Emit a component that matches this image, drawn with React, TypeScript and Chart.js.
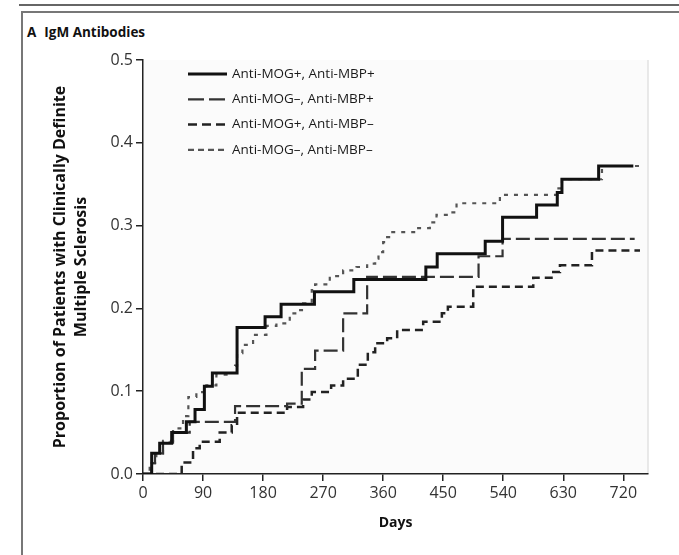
import React, { useEffect, useRef } from "react";
import { Chart, registerables } from "chart.js";

Chart.register(...registerables);

// ---- data ----
const X_TICKS = [0, 90, 180, 270, 360, 450, 540, 630, 720];
const Y_TICKS = [0, 0.1, 0.2, 0.3, 0.4, 0.5];
const SERIES_LABELS = [
  "Anti-MOG+, Anti-MBP+",
  "Anti-MOG\u2013, Anti-MBP+",
  "Anti-MOG+, Anti-MBP\u2013",
  "Anti-MOG\u2013, Anti-MBP\u2013",
];

const MOGPOS_MBPPOS_DAYS = [0, 13, 25, 43, 65, 78, 92, 104, 141, 183, 207, 257, 316, 424, 441, 513, 539, 590, 621, 628, 683, 735];
const MOGPOS_MBPPOS_VALS = [0, 0.025, 0.037, 0.05, 0.063, 0.078, 0.106, 0.122, 0.177, 0.19, 0.205, 0.22, 0.235, 0.25, 0.266, 0.281, 0.31, 0.325, 0.34, 0.356, 0.372, 0.372];

const MOGNEG_MBPPOS_DAYS = [0, 13, 18, 30, 45, 70, 138, 216, 238, 258, 300, 336, 503, 539, 737];
const MOGNEG_MBPPOS_VALS = [0, 0.013, 0.025, 0.038, 0.05, 0.063, 0.082, 0.085, 0.127, 0.149, 0.194, 0.238, 0.263, 0.284, 0.284];

const MOGPOS_MBPNEG_DAYS = [0, 52, 58, 75, 85, 115, 133, 141, 216, 240, 253, 282, 300, 322, 337, 348, 366, 381, 420, 448, 457, 495, 585, 615, 625, 673, 745];
const MOGPOS_MBPNEG_VALS = [0, 0, 0.014, 0.031, 0.039, 0.05, 0.059, 0.074, 0.081, 0.09, 0.099, 0.107, 0.115, 0.132, 0.147, 0.158, 0.164, 0.174, 0.184, 0.194, 0.202, 0.226, 0.237, 0.244, 0.252, 0.27, 0.27];

const MOGNEG_MBPNEG_DAYS = [0, 10, 20, 30, 45, 60, 68, 80, 95, 110, 128, 138, 141, 149, 165, 185, 200, 220, 232, 240, 253, 258, 280, 300, 320, 336, 348, 353, 360, 366, 371, 410, 430, 440, 457, 470, 535, 621, 628, 688, 750];
const MOGNEG_MBPNEG_VALS = [0, 0.013, 0.025, 0.04, 0.055, 0.07, 0.093, 0.099, 0.107, 0.12, 0.122, 0.131, 0.146, 0.156, 0.168, 0.179, 0.182, 0.194, 0.198, 0.206, 0.222, 0.229, 0.239, 0.246, 0.25, 0.254, 0.26, 0.268, 0.28, 0.286, 0.292, 0.297, 0.304, 0.313, 0.316, 0.327, 0.337, 0.345, 0.356, 0.372, 0.372];

const X_MAX = 757;
const Y_TITLE = ["Proportion of Patients with Clinically Definite", "Multiple Sclerosis"];
const X_TITLE = "Days";

const FONT = "'Open Sans', 'DejaVu Sans', sans-serif";

function pts(days: number[], vals: number[]) {
  return days.map((d, i) => ({ x: d, y: vals[i] }));
}

const bgPlugin = {
  id: "plotBg",
  beforeDraw(chart: any) {
    const { ctx, chartArea: a } = chart;
    ctx.save();
    ctx.fillStyle = "#fbfbfb";
    ctx.fillRect(a.left, a.top, a.right - a.left, a.bottom - a.top);
    ctx.strokeStyle = "#e2e2e2";
    ctx.lineWidth = 1.5;
    ctx.beginPath();
    ctx.moveTo(a.right, a.top);
    ctx.lineTo(a.right, a.bottom);
    ctx.stroke();
    ctx.restore();
  },
};

const legendPlugin = {
  id: "customLegend",
  afterDraw(chart: any) {
    const { ctx } = chart;
    ctx.save();
    chart.data.datasets.forEach((ds: any, i: number) => {
      const y = 74 + i * 25.3;
      ctx.strokeStyle = ds.borderColor;
      ctx.lineWidth = ds.borderWidth;
      ctx.setLineDash(ds.legendDash || ds.borderDash || []);
      ctx.beginPath();
      ctx.moveTo(188, y);
      ctx.lineTo(227, y);
      ctx.stroke();
      ctx.setLineDash([]);
      ctx.fillStyle = "#1a1a1a";
      ctx.font = `13.5px ${FONT}`;
      ctx.textBaseline = "middle";
      ctx.textAlign = "left";
      ctx.fillText(ds.label, 232, y);
    });
    ctx.restore();
  },
};

export default function App() {
  const ref = useRef<HTMLCanvasElement>(null);

  useEffect(() => {
    const chart = new Chart(ref.current as HTMLCanvasElement, {
      type: "line",
      data: {
        datasets: [
          {
            label: SERIES_LABELS[0],
            data: pts(MOGPOS_MBPPOS_DAYS, MOGPOS_MBPPOS_VALS),
            borderColor: "#111",
            borderWidth: 3,
            borderDash: [],
            stepped: "before",
          },
          {
            label: SERIES_LABELS[1],
            data: pts(MOGNEG_MBPPOS_DAYS, MOGNEG_MBPPOS_VALS),
            borderColor: "#333",
            borderWidth: 2.2,
            borderDash: [14, 5],
            legendDash: [16, 5],
            stepped: "before",
          },
          {
            label: SERIES_LABELS[2],
            data: pts(MOGPOS_MBPNEG_DAYS, MOGPOS_MBPNEG_VALS),
            borderColor: "#222",
            borderWidth: 2.5,
            borderDash: [8, 5],
            legendDash: [9, 5],
            stepped: "before",
          },
          {
            label: SERIES_LABELS[3],
            data: pts(MOGNEG_MBPNEG_DAYS, MOGNEG_MBPNEG_VALS),
            borderColor: "#555",
            borderWidth: 2.2,
            borderDash: [4, 6],
            legendDash: [6, 4],
            stepped: "before",
          },
        ] as any,
      },
      options: {
        animation: false,
        responsive: false,
        devicePixelRatio: 1,
        layout: { padding: { left: 0, top: 60, right: 31, bottom: 11 } },
        elements: { point: { radius: 0 }, line: { tension: 0 } },
        plugins: { legend: { display: false }, tooltip: { enabled: false } },
        scales: {
          x: {
            type: "linear",
            min: 0,
            max: X_MAX,
            afterBuildTicks: (s: any) => {
              s.ticks = X_TICKS.map((v) => ({ value: v }));
            },
            afterFit: (s: any) => {
              s.height = 70;
            },
            grid: { drawOnChartArea: false, drawTicks: true, tickLength: 7, color: "#222", lineWidth: 1.5 },
            border: { display: true, color: "#222", width: 1.5 },
            ticks: {
              autoSkip: false,
              maxRotation: 0,
              padding: 3,
              color: "#333",
              font: { family: FONT, size: 16 },
              callback: (v: any) => String(v),
            },
            title: {
              display: true,
              text: X_TITLE,
              color: "#111",
              font: { family: FONT, size: 14, weight: "bold" },
              padding: { top: 0, bottom: 13 },
            },
          },
          y: {
            type: "linear",
            min: 0,
            max: 0.5,
            afterBuildTicks: (s: any) => {
              s.ticks = Y_TICKS.map((v) => ({ value: v }));
            },
            afterFit: (s: any) => {
              s.width = 143;
            },
            grid: { drawOnChartArea: false, drawTicks: true, tickLength: 7, color: "#222", lineWidth: 1.5 },
            border: { display: true, color: "#222", width: 1.5 },
            ticks: {
              padding: 3,
              color: "#333",
              font: { family: FONT, size: 16 },
              callback: (v: any) => Number(v).toFixed(1),
            },
            title: {
              display: true,
              text: Y_TITLE,
              color: "#111",
              font: { family: FONT, size: 16, weight: "bold", lineHeight: 1.3 },
              padding: { top: 50, bottom: 0 },
            },
          },
        },
      } as any,
      plugins: [bgPlugin, legendPlugin],
    });
    return () => chart.destroy();
  }, []);

  return (
    <div
      style={{
        position: "absolute",
        left: 0,
        top: 0,
        width: 679,
        height: 555,
        overflow: "hidden",
        background: "#fff",
      }}
    >
      <div style={{ position: "absolute", left: 19, top: 4, width: 700, height: 2, background: "#666" }} />
      <div
        style={{
          position: "absolute",
          left: 21,
          top: 11,
          width: 700,
          height: 600,
          borderTop: "2px solid #777",
          borderLeft: "2px solid #777",
          boxSizing: "border-box",
        }}
      />
      <div
        style={{
          position: "absolute",
          left: 27,
          top: 23,
          font: `bold 13.5px ${FONT}`,
          color: "#111",
          whiteSpace: "nowrap",
        }}
      >
        A<span style={{ marginLeft: 8 }}>IgM Antibodies</span>
      </div>
      <canvas
        ref={ref}
        width={679}
        height={555}
        style={{ position: "absolute", left: 0, top: 0, width: 679, height: 555 }}
      />
    </div>
  );
}
